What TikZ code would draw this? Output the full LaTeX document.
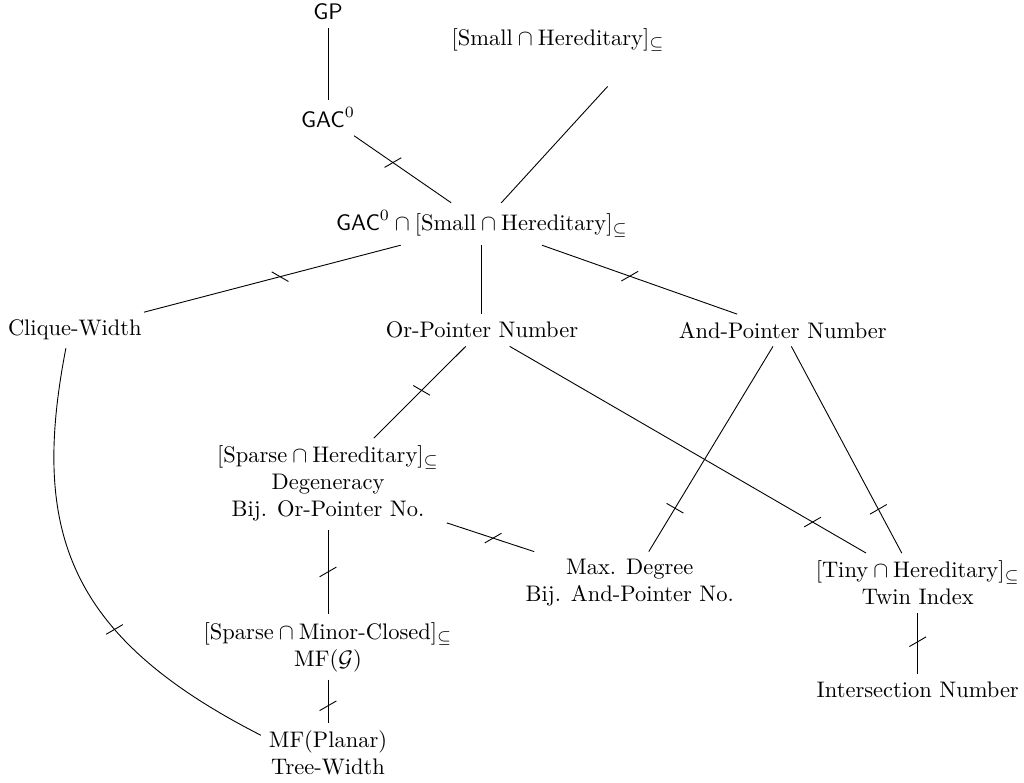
\documentclass[tikz,border=0pt]{standalone}
\usepackage{amsmath}
\usetikzlibrary{decorations.markings}
\tikzset{
  strict/.style 2 args={postaction={decorate},
    decoration={markings, mark=at position #1 with {\pgftransformresetnontranslations
      \draw (#2:4.3pt) -- (#2+180:4.3pt);}}}
}
\begin{document}
\begin{tikzpicture}
      \useasboundingbox (0,0) rectangle (16,-12.22);
      \draw
        (5.125,-0.19) node (gp){$\mathsf{GP}$}
        (5.125,-1.84) node (gac){$\mathsf{GAC}^0$}
        (8.72,-0.625) node (small){$[\text{Small}\cap\text{Hereditary}]_{\subseteq}$}
        (7.53,-3.5) node (gacsh){$\mathsf{GAC}^0\cap[\text{Small}\cap\text{Hereditary}]_{\subseteq}$}
        (1.17,-5.16) node (cw){Clique-Width}
        (7.53,-5.16) node (or){Or-Pointer Number}
        (12.23,-5.16) node (and){And-Pointer Number}
        (5.125,-7.56) node[align=center] (sparse){$[\text{Sparse}\cap\text{Hereditary}]_{\subseteq}$\\Degeneracy\\Bij. Or-Pointer No.}
        (9.84,-9.11) node[align=center] (maxd){Max. Degree\\Bij. And-Pointer No.}
        (14.34,-9.11) node[align=center] (tiny){$[\text{Tiny}\cap\text{Hereditary}]_{\subseteq}$\\Twin Index}
        (5.125,-10.11) node[align=center] (minor){$[\text{Sparse}\cap\text{Minor-Closed}]_{\subseteq}$\\MF($\mathcal{G}$)}
        (5.125,-11.77) node[align=center] (planar){MF(Planar)\\Tree-Width}
        (14.34,-10.78) node (inter){Intersection Number};
      \begin{scope}[-]
        \draw (gp) to (gac);
        \draw[strict={.4}{30}] (gac) to (gacsh);
        \draw (gacsh) to ([xshift=22pt,yshift=-12pt]small.south);
        \draw[strict={.47}{-30}] (gacsh) to (cw);
        \draw (gacsh) to (or);
        \draw[strict={.45}{30}] (gacsh) to (and);
        \draw[strict={.48}{-30}] (or) to (sparse);
        \draw[strict={.85}{30}] (or) to (tiny);
        \draw[strict={.79}{-30}] (and) to (maxd);
        \draw[strict={.79}{30}] (and) to (tiny);
        \draw[strict={.53}{30}] (sparse) to (maxd);
        \draw[strict={.5}{30}] (sparse) to (minor);
        \draw[strict={.6}{30}] (minor) to (planar);
        \draw[strict={.47}{30}] (tiny) to (inter);
        \draw[strict={.62}{30}] ([xshift=-4pt]cw.south) .. controls +(-101:2.9) and +(153:3.4) .. ([yshift=8pt]planar.west);
      \end{scope}
    \end{tikzpicture}
\end{document}
